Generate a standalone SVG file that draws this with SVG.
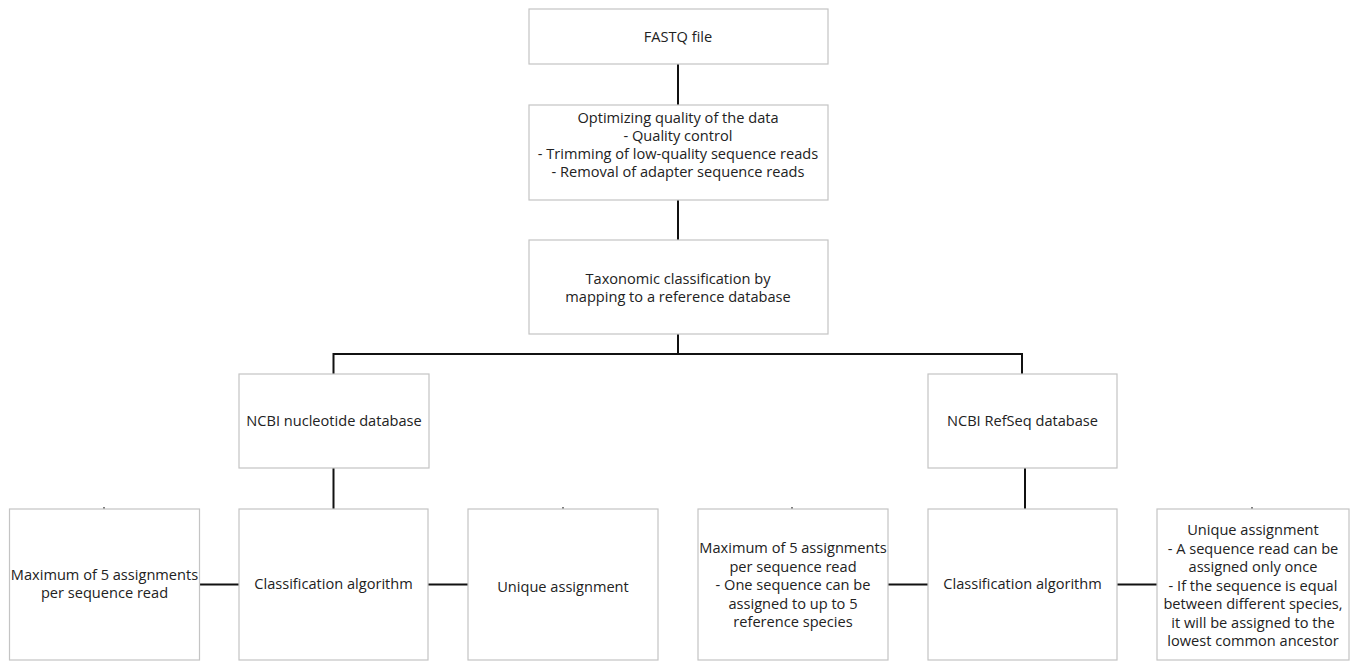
<svg xmlns="http://www.w3.org/2000/svg" width="1355" height="662" viewBox="0 0 1355 662">
<style>
.box{fill:#ffffff;stroke:#c4c4c4;stroke-width:1.2}
.t{font-family:"Open Sans","Liberation Sans",sans-serif;font-size:14.6px;fill:#222222;text-anchor:middle}
.c{stroke:#111111;stroke-width:2;fill:none}
.k{stroke:#555555;stroke-width:1.5;fill:none}
</style>
<rect width="1355" height="662" fill="#ffffff"/>
<g id="connectors">
<line class="c" x1="678" y1="64" x2="678" y2="105"/>
<line class="c" x1="678" y1="200" x2="678" y2="240"/>
<line class="c" x1="678" y1="334" x2="678" y2="354"/>
<polyline class="c" points="333.5,374 333.5,354 1022,354 1022,374"/>
<line class="c" x1="333.5" y1="468" x2="333.5" y2="509"/>
<line class="c" x1="1025" y1="468" x2="1025" y2="509"/>
<line class="c" x1="199" y1="584.5" x2="239" y2="584.5"/>
<line class="c" x1="428" y1="584.5" x2="468" y2="584.5"/>
<line class="c" x1="888" y1="584.5" x2="928" y2="584.5"/>
<line class="c" x1="1117" y1="584.5" x2="1157" y2="584.5"/>
<line class="k" x1="104" y1="507" x2="104" y2="509"/>
<line class="k" x1="563" y1="507" x2="563" y2="509"/>
<line class="k" x1="792" y1="507" x2="792" y2="509"/>
<line class="k" x1="1252" y1="507" x2="1252" y2="509"/>
</g>
<g id="fastq">
<rect class="box" x="529" y="9" width="299" height="55"/>
<text class="t" x="678" y="42">FASTQ file</text>
</g>
<g id="optimizing">
<rect class="box" x="529" y="105" width="299" height="95"/>
<text class="t" x="678" y="123">Optimizing quality of the data</text>
<text class="t" x="678" y="141">- Quality control</text>
<text class="t" x="678" y="159">- Trimming of low-quality sequence reads</text>
<text class="t" x="678" y="177">- Removal of adapter sequence reads</text>
</g>
<g id="taxonomic">
<rect class="box" x="529" y="240" width="299" height="94"/>
<text class="t" x="678" y="284">Taxonomic classification by</text>
<text class="t" x="678" y="302">mapping to a reference database</text>
</g>
<g id="ncbi-nucleotide">
<rect class="box" x="239" y="374" width="190" height="94"/>
<text class="t" x="334" y="426">NCBI nucleotide database</text>
</g>
<g id="ncbi-refseq">
<rect class="box" x="928" y="374" width="189" height="94"/>
<text class="t" x="1022.5" y="426">NCBI RefSeq database</text>
</g>
<g id="left-max">
<rect class="box" x="9.5" y="509" width="190" height="151"/>
<text class="t" x="104.5" y="580">Maximum of 5 assignments</text>
<text class="t" x="104.5" y="598">per sequence read</text>
</g>
<g id="left-classification">
<rect class="box" x="239" y="509" width="189" height="151"/>
<text class="t" x="333.5" y="589">Classification algorithm</text>
</g>
<g id="left-unique">
<rect class="box" x="468" y="509" width="190" height="151"/>
<text class="t" x="563" y="592">Unique assignment</text>
</g>
<g id="right-max">
<rect class="box" x="698" y="509" width="190" height="151"/>
<text class="t" x="793" y="553">Maximum of 5 assignments</text>
<text class="t" x="793" y="571.5">per sequence read</text>
<text class="t" x="793" y="590">- One sequence can be</text>
<text class="t" x="793" y="608.5">assigned to up to 5</text>
<text class="t" x="793" y="627">reference species</text>
</g>
<g id="right-classification">
<rect class="box" x="928" y="509" width="189" height="151"/>
<text class="t" x="1022.5" y="589">Classification algorithm</text>
</g>
<g id="right-unique">
<rect class="box" x="1157" y="509" width="192" height="151"/>
<text class="t" x="1253" y="535">Unique assignment</text>
<text class="t" x="1253" y="553.5">- A sequence read can be</text>
<text class="t" x="1253" y="572">assigned only once</text>
<text class="t" x="1253" y="590.5">- If the sequence is equal</text>
<text class="t" x="1253" y="609">between different species,</text>
<text class="t" x="1253" y="627.5">it will be assigned to the</text>
<text class="t" x="1253" y="646">lowest common ancestor</text>
</g>
</svg>
